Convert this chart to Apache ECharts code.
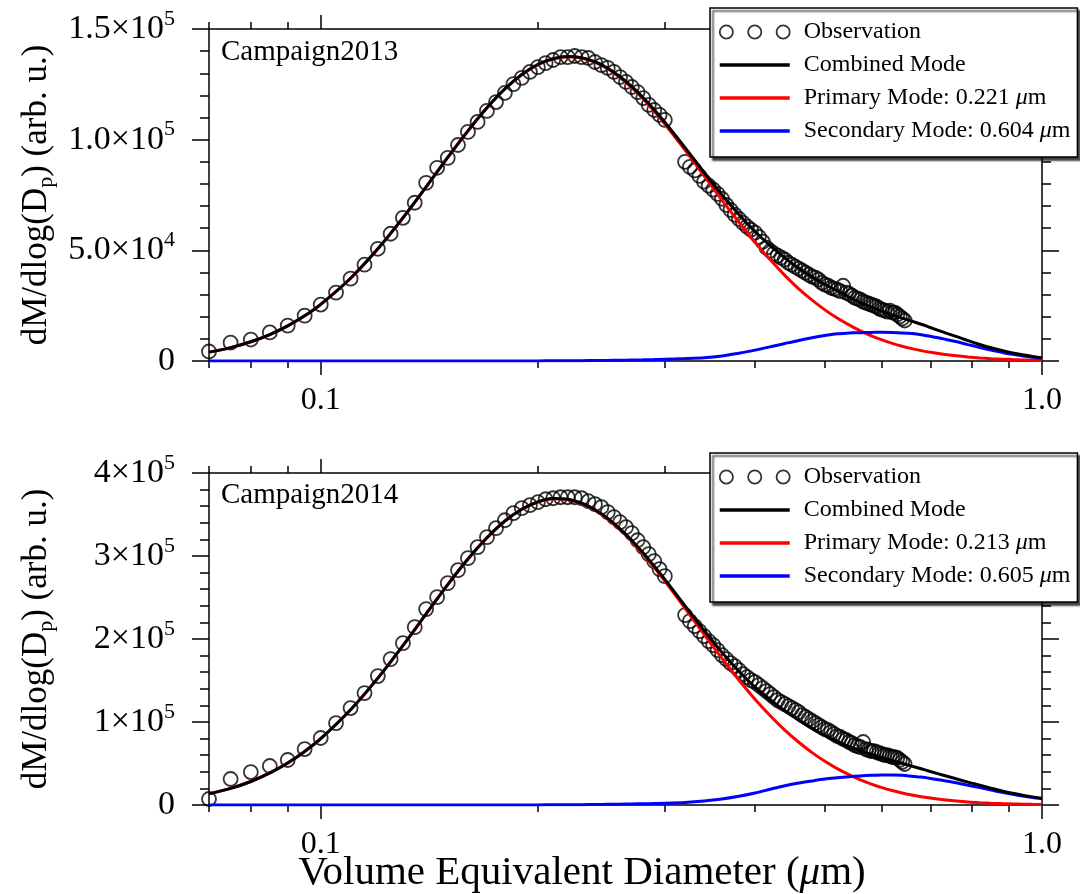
<!DOCTYPE html>
<html lang="en">
<head>
<meta charset="UTF-8">
<title>Mass size distribution</title>
<script src="https://cdn.jsdelivr.net/npm/echarts@6/dist/echarts.min.js"></script>
<style>
  html, body { margin: 0; padding: 0; background: #fff; }
  #chart { width: 1080px; height: 894px; }
</style>
</head>
<body>
<div id="chart"></div>
<script>
// diameters of the measured bins (um)
var obsDiam = [
  0.070, 0.075, 0.080, 0.085, 0.090, 0.095, 0.100, 0.105, 0.110, 0.115, 0.120, 0.125,
  0.130, 0.135, 0.140, 0.145, 0.150, 0.155, 0.160, 0.165, 0.170, 0.175, 0.180, 0.185,
  0.190, 0.195, 0.200, 0.205, 0.210, 0.215, 0.220, 0.225, 0.230, 0.235, 0.240, 0.245,
  0.250, 0.255, 0.260, 0.265, 0.270, 0.275, 0.280, 0.285, 0.290, 0.295, 0.300,
  0.320, 0.325, 0.330, 0.335, 0.340, 0.345, 0.350, 0.355, 0.360, 0.365, 0.370, 0.375,
  0.380, 0.385, 0.390, 0.395, 0.400, 0.405, 0.410, 0.415, 0.420, 0.425, 0.430, 0.435,
  0.440, 0.445, 0.450, 0.455, 0.460, 0.465, 0.470, 0.475, 0.480, 0.485, 0.490, 0.495,
  0.500, 0.505, 0.510, 0.515, 0.520, 0.525, 0.530, 0.535, 0.540, 0.545, 0.550, 0.555,
  0.560, 0.565, 0.570, 0.575, 0.580, 0.585, 0.590, 0.595, 0.600, 0.605, 0.610, 0.615,
  0.620, 0.625, 0.630, 0.635, 0.640, 0.645
];
var obs2013 = [
  4300, 8300, 9700, 12900, 16000, 20500, 25500, 30900, 37200, 43500, 50700, 57500,
  64700, 71500, 80500, 87300, 91800, 97600, 103500, 108000, 113000, 117000, 121100, 125100,
  127900, 130600, 132800, 134600, 136000, 137300, 137300, 137800, 137300, 136900, 135100, 133700,
  132400, 130600, 128300, 126100, 123800, 121500, 118800, 115700, 113400, 111200, 108900,
  90000, 87700, 86100, 83600, 81000, 79200, 77400, 75500, 73300, 70500, 68300, 66100,
  64200, 62400, 60700, 59300, 58000, 56100, 53900, 51200, 49800, 48500, 47600, 46700,
  45800, 44400, 43500, 42600, 41700, 40800, 39900, 39000, 38100, 37700, 36800, 35400,
  34500, 34100, 33100, 32700, 32200, 31600, 34000, 30900, 30400, 29500, 28600, 28200,
  27700, 26800, 26400, 25900, 25500, 25000, 24600, 23700, 23200, 22800, 22300, 22800,
  21900, 21900, 21000, 20100, 19200, 18300
];
var obs2014 = [
  7200, 31300, 39700, 47000, 54200, 67400, 80700, 98700, 116800, 134800, 155300, 175800,
  195000, 214300, 236000, 250400, 267300, 282900, 297400, 310600, 322700, 333500, 343100, 351600,
  357600, 361200, 364800, 368400, 369600, 370800, 370800, 370800, 369600, 366000, 362400, 358800,
  352800, 346800, 340700, 334700, 327500, 319000, 310600, 302200, 293800, 284100, 275700,
  228800, 221500, 215500, 209500, 203500, 197500, 192600, 186600, 180600, 175800, 171000, 167400,
  162500, 157700, 154100, 150500, 148100, 144500, 140900, 137300, 133600, 130000, 126400, 124000,
  121600, 119200, 116800, 114400, 112000, 108400, 106000, 103500, 101100, 98700, 96300, 93900,
  91500, 90300, 87900, 85500, 83100, 81900, 79500, 78300, 75900, 74600, 72200, 71000,
  69800, 75900, 67400, 66200, 65000, 65000, 63800, 62600, 61400, 60200, 60200, 59000,
  57800, 57800, 56600, 54200, 51800, 49400
];

// fitted curves, read at these diameters (um)
var curveDiam = [
  0.07, 0.075, 0.08, 0.085, 0.09, 0.095, 0.10, 0.11, 0.12, 0.13, 0.14, 0.15, 0.16, 0.17,
  0.18, 0.19, 0.20, 0.21, 0.22, 0.23, 0.24, 0.25, 0.26, 0.27, 0.28, 0.29, 0.30,
  0.32, 0.34, 0.36, 0.38, 0.40, 0.42, 0.44, 0.46, 0.48, 0.50, 0.52, 0.54, 0.56, 0.58,
  0.60, 0.62, 0.64, 0.66, 0.68, 0.70, 0.73, 0.76, 0.79, 0.82, 0.85, 0.88, 0.91, 0.94, 0.97, 1.00
];
var combined2013 = [
  4000, 6050, 8700, 11950, 15850, 20400, 25600, 37400, 50700, 64700, 78700, 92000, 104000, 114400,
  122910, 129420, 133950, 136580, 137620, 137060, 135200, 132260, 128430, 123920, 118920, 113550, 107900,
  96400, 85200, 75000, 66200, 58500, 52100, 46600, 41900, 38000, 34600, 31700, 28900, 26400, 24300,
  22530, 20870, 19380, 18000, 16590, 15130, 13020, 11120, 9190, 7480, 5970, 4730, 3650, 2800, 2090, 1510
];
var primary2013 = [
  4000, 6050, 8700, 11950, 15850, 20400, 25600, 37400, 50700, 64700, 78700, 92000, 104000, 114400,
  122900, 129400, 133900, 136500, 137500, 136900, 135000, 132000, 128100, 123500, 118400, 112900, 107100,
  95300, 83700, 72700, 62700, 53600, 45700, 38700, 32600, 27500, 23100, 19400, 16300, 13600, 11400,
  9530, 7970, 6680, 5600, 4690, 3930, 3020, 2320, 1790, 1380, 1070, 830, 650, 500, 390, 310
];
var secondary2013 = [
  0, 0, 0, 0, 0, 0, 0, 0, 0, 0, 0, 0, 0, 0,
  10, 20, 50, 80, 120, 160, 200, 260, 330, 420, 520, 650, 800,
  1100, 1500, 2300, 3500, 4900, 6400, 7900, 9300, 10500, 11500, 12300, 12600, 12800, 12900,
  13000, 12900, 12700, 12400, 11900, 11200, 10000, 8800, 7400, 6100, 4900, 3900, 3000, 2300, 1700, 1200
];
var combined2014 = [
  13400, 20000, 28300, 38600, 50600, 64500, 79900, 114800, 152900, 192100, 230300, 265600, 296400, 322000,
  342150, 356400, 365250, 369250, 368350, 363650, 355800, 345400, 332700, 318650, 303600, 287750, 271700,
  240000, 210300, 183900, 161100, 142000, 126600, 113400, 102100, 92100, 83800, 76500, 70500, 65300, 60900,
  57000, 53500, 50300, 46800, 43600, 40400, 35800, 31700, 27500, 23760, 20200, 16900, 14110, 11820, 9790, 8120
];
var primary2014 = [
  13400, 20000, 28300, 38600, 50600, 64500, 79900, 114800, 152900, 192100, 230300, 265600, 296400, 322000,
  342100, 356300, 365100, 369000, 368000, 363200, 355200, 344600, 331700, 317400, 302100, 286000, 269700,
  237000, 205500, 176600, 150600, 127500, 107600, 90200, 75600, 63100, 52600, 43800, 36500, 30300, 25200,
  20900, 17400, 14500, 12100, 10000, 8400, 6400, 4900, 3700, 2860, 2200, 1700, 1310, 1020, 790, 620
];
var secondary2014 = [
  0, 0, 0, 0, 0, 0, 0, 0, 0, 0, 0, 0, 0, 0,
  50, 100, 150, 250, 350, 450, 600, 800, 1000, 1250, 1500, 1750, 2000,
  3000, 4800, 7300, 10500, 14500, 19000, 23200, 26500, 29000, 31200, 32700, 34000, 35000, 35700,
  36100, 36100, 35800, 34700, 33600, 32000, 29400, 26800, 23800, 20900, 18000, 15200, 12800, 10800, 9000, 7500
];

var primaryMode = ['0.221', '0.213'];
var secondaryMode = ['0.604', '0.605'];
var campaigns = ['Campaign2013', 'Campaign2014'];

// axis ticks
var xRange = [0.07, 1.0];
var xMajorTicks = [0.1, 1.0];
var xMinorTicks = [0.07, 0.08, 0.09, 0.2, 0.3, 0.4, 0.5, 0.6, 0.7, 0.8, 0.9];
var yMax = [150000, 400000];
var yStep = [50000, 100000];
var yLabels = [
  [['0', ''], ['5.0×10', '4'], ['1.0×10', '5'], ['1.5×10', '5']],
  [['0', ''], ['1×10', '5'], ['2×10', '5'], ['3×10', '5'], ['4×10', '5']]
];

var FONT = 'Liberation Serif';
var axisLine = { color: '#000', width: 1.5 };
function lg(v) { return Math.log10(v); }
function pts(xs, ys) {
  return xs.map(function (x, i) { return [lg(x), ys[i]]; });
}

var grids = [
  { left: 209, right: 38, top: 29, height: 332, outerBoundsMode: 'none' },
  { left: 209, right: 38, top: 473, height: 332, outerBoundsMode: 'none' }
];

function xAxis(gi, pos, major, showLabel, name) {
  var ax = {
    type: 'value', gridIndex: gi, position: pos,
    min: lg(xRange[0]), max: lg(xRange[1]),
    axisLine: { show: major, onZero: false, lineStyle: axisLine },
    axisTick: {
      show: true, inside: false, length: major ? 14 : 7,
      customValues: (major ? xMajorTicks : xMinorTicks).map(lg),
      lineStyle: axisLine
    },
    axisLabel: {
      show: showLabel, customValues: xMajorTicks.map(lg), margin: 24,
      showMinLabel: true, showMaxLabel: true,
      fontFamily: FONT, fontSize: 32, color: '#000',
      formatter: function (v) { return Math.pow(10, v).toFixed(1); }
    },
    splitLine: { show: false }
  };
  if (name) {
    ax.name = name;
    ax.nameLocation = 'middle';
    ax.nameGap = 48;
    ax.nameMoveOverlap = false;
    ax.nameTextStyle = {
      fontFamily: FONT, fontSize: 41, color: '#000', padding: [0, 87, 0, 0],
      rich: { i: { fontFamily: FONT, fontSize: 41, fontStyle: 'italic', color: '#000' } }
    };
  }
  return ax;
}

function yAxis(gi, pos, showLabel) {
  var ax = {
    type: 'value', gridIndex: gi, position: pos,
    min: 0, max: yMax[gi], interval: yStep[gi],
    axisLine: { show: true, onZero: false, lineStyle: axisLine },
    axisTick: { inside: false, length: 17, lineStyle: axisLine },
    minorTick: { show: true, splitNumber: 5, length: 9, lineStyle: axisLine },
    splitLine: { show: false },
    axisLabel: {
      show: showLabel, margin: 34,
      formatter: function (v) {
        var lab = yLabels[gi][Math.round(v / yStep[gi])];
        return lab[1] ? '{m|' + lab[0] + '}{e|' + lab[1] + '}' : '{m|' + lab[0] + '}';
      },
      rich: {
        m: { fontFamily: FONT, fontSize: 34, color: '#000', lineHeight: 42 },
        e: { fontFamily: FONT, fontSize: 22, color: '#000', lineHeight: 22, verticalAlign: 'top' }
      }
    }
  };
  if (showLabel) {
    ax.name = '{a|dM/dlog(D}{s|p}{a|) (arb. u.)}';
    ax.nameLocation = 'middle';
    ax.nameRotate = 90;
    ax.nameGap = 152;
    ax.nameMoveOverlap = false;
    ax.nameTextStyle = {
      rich: {
        a: { fontFamily: FONT, fontSize: 35, color: '#000', lineHeight: 40 },
        s: { fontFamily: FONT, fontSize: 22, color: '#000', lineHeight: 22, verticalAlign: 'bottom' }
      }
    };
  }
  return ax;
}

var xAxes = [], yAxes = [], series = [], legends = [], graphics = [];
var obsSets = [obs2013, obs2014];
var curveSets = [
  [combined2013, primary2013, secondary2013],
  [combined2014, primary2014, secondary2014]
];
// hide the dot ECharts puts in the middle of a line legend icon
var noDot = { color: 'rgba(0,0,0,0)', borderWidth: 0, opacity: 0 };

[0, 1].forEach(function (gi) {
  xAxes.push(xAxis(gi, 'bottom', true, true, gi === 1 ? 'Volume Equivalent Diameter ({i|μ}m)' : null));
  xAxes.push(xAxis(gi, 'bottom', false, false));
  xAxes.push(xAxis(gi, 'top', true, false));
  xAxes.push(xAxis(gi, 'top', false, false));
  yAxes.push(yAxis(gi, 'left', true));
  yAxes.push(yAxis(gi, 'right', false));

  var xi = gi * 4, yi = gi * 2;
  var pName = 'Primary Mode: ' + primaryMode[gi] + ' μm';
  var sName = 'Secondary Mode: ' + secondaryMode[gi] + ' μm';
  var c = curveSets[gi];
  function line(name, ys, color) {
    return {
      name: name, type: 'line', xAxisIndex: xi, yAxisIndex: yi,
      data: pts(curveDiam, ys), symbol: 'none', smooth: 0.3,
      lineStyle: { color: color, width: 3 }, itemStyle: { color: color }
    };
  }
  series.push(line(pName, c[1], '#ff0000'));
  series.push(line(sName, c[2], '#0000ff'));
  series.push(line('Combined Mode', c[0], '#000000'));
  series.push({
    name: 'Observation', type: 'scatter', xAxisIndex: xi, yAxisIndex: yi,
    data: pts(obsDiam, obsSets[gi]), symbol: 'circle', symbolSize: 14,
    itemStyle: { color: 'rgba(0,0,0,0)', borderColor: '#000', borderWidth: 1.8 }
  });

  legends.push({
    orient: 'vertical', left: 710, top: 8 + gi * 445,
    selectedMode: false,
    itemWidth: 70, itemHeight: 14, itemGap: 7,
    padding: [11, 7, 13, 8],
    backgroundColor: '#fff', borderColor: '#000', borderWidth: 1.5,
    shadowColor: 'rgba(0,0,0,0.75)', shadowBlur: 2, shadowOffsetX: 3, shadowOffsetY: 3,
    data: [
      {
        name: 'Observation',
        icon: 'path://M0.5,7a6.5,6.5 0 1,0 13,0a6.5,6.5 0 1,0 -13,0M28.5,7a6.5,6.5 0 1,0 13,0a6.5,6.5 0 1,0 -13,0M56.5,7a6.5,6.5 0 1,0 13,0a6.5,6.5 0 1,0 -13,0',
        itemStyle: { color: '#fff', borderColor: '#000', borderWidth: 1.8 }
      },
      { name: 'Combined Mode', itemStyle: noDot, lineStyle: { width: 3.5 } },
      { name: pName, itemStyle: noDot, lineStyle: { width: 3.5 } },
      { name: sName, itemStyle: noDot, lineStyle: { width: 3.5 } }
    ],
    formatter: function (name) {
      var m = name.match(/^(.*) μm$/);
      return m ? m[1] + ' {i|μ}m' : name;
    },
    textStyle: {
      fontFamily: FONT, fontSize: 24, color: '#000', lineHeight: 26, padding: [0, 0, 0, 9],
      rich: { i: { fontFamily: FONT, fontSize: 24, fontStyle: 'italic', color: '#000' } }
    }
  });

  graphics.push({
    type: 'text', left: 221, top: 38 + gi * 443,
    style: { text: campaigns[gi], font: '29px "Liberation Serif"', fill: '#000' }
  });
});

var chart = echarts.init(document.getElementById('chart'));
chart.setOption({
  animation: false,
  backgroundColor: '#fff',
  grid: grids,
  xAxis: xAxes,
  yAxis: yAxes,
  legend: legends,
  graphic: graphics,
  series: series
});
</script>
</body>
</html>
